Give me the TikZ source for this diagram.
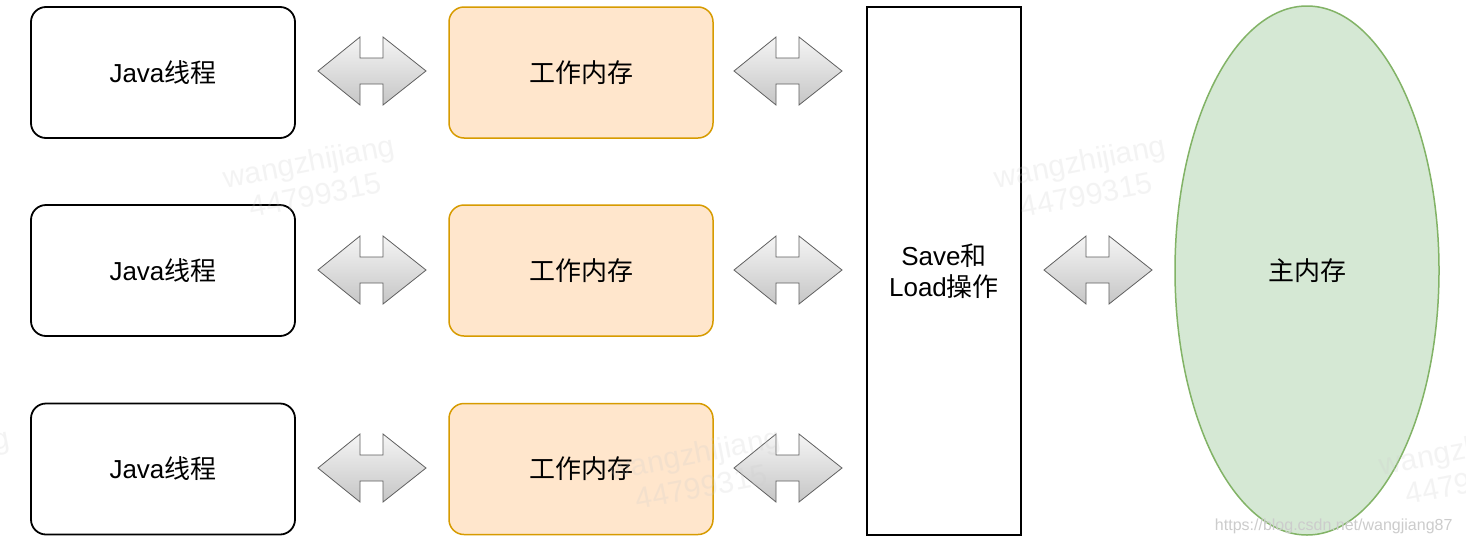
\documentclass[tikz,border=0pt]{standalone}
\usepackage{fontspec}
\setmainfont{Noto Sans CJK SC}
\newfontfamily\lat{Liberation Sans}
\usetikzlibrary{shapes.geometric,calc}
\definecolor{wmfill}{HTML}{FFE6CC}
\definecolor{wmdraw}{HTML}{D79B00}
\definecolor{mmfill}{HTML}{D5E8D4}
\definecolor{mmdraw}{HTML}{82B366}
\tikzset{
  thread/.style={draw=black, line width=1.8pt, rounded corners=15pt, minimum width=264pt, minimum height=131pt, inner sep=0pt, fill=white, font=\fontsize{26}{30}\selectfont},
  work/.style={draw=wmdraw, fill=wmfill, line width=1.5pt, rounded corners=15pt, minimum width=264pt, minimum height=131pt, inner sep=0pt, font=\fontsize{26}{30}\selectfont},
  savebox/.style={draw=black, line width=1.8pt, minimum width=154pt, minimum height=528pt, inner sep=0pt, fill=white, align=center, font=\fontsize{26}{31}\selectfont},
  mainmem/.style={ellipse, draw=mmdraw, fill=mmfill, line width=1.5pt, minimum width=264pt, minimum height=529pt, inner sep=0pt, font=\fontsize{26}{30}\selectfont},
  dbl/.style={draw=gray!75!black, line width=0.8pt, top color=gray!8, bottom color=gray!45},
  wmark/.style={rotate=11, align=center, text=gray!40, text opacity=0.22, font=\lat\fontsize{30}{34}\selectfont},
}
\newcommand{\dblarrow}[1]{%
  \path[dbl] ($(#1)+(-54,0)$) -- ++(42,-34) -- ++(0,21) -- ++(23,0) -- ++(0,-21)
    -- ++(43,34) -- ++(-43,34) -- ++(0,-21) -- ++(-23,0) -- ++(0,21) -- cycle;}
\begin{document}
\begin{tikzpicture}[x=1pt,y=-1pt]
\useasboundingbox[fill=white] (0,0) rectangle (1466,544);
% threads
\node[thread] (j1) at (163,72.5) {\lat Java\normalfont 线程};
\node[thread] (j2) at (163,270.5) {\lat Java\normalfont 线程};
\node[thread] (j3) at (163,469) {\lat Java\normalfont 线程};
% working memory
\node[work] (w1) at (581,72.5) {工作内存};
\node[work] (w2) at (581,270.5) {工作内存};
\node[work] (w3) at (581,469) {工作内存};
% save/load
\node[savebox] (s) at (944,271) {{\lat Save}和\\{\lat Load}操作};
% main memory
\node[mainmem] (m) at (1307,270.5) {主内存};
% double arrows
\coordinate (a1) at (372,71);
\coordinate (a2) at (372,270);
\coordinate (a3) at (372,468);
\coordinate (b1) at (788,71);
\coordinate (b2) at (788,270);
\coordinate (b3) at (788,468);
\coordinate (c1) at (1098,270);
\dblarrow{a1}\dblarrow{a2}\dblarrow{a3}
\dblarrow{b1}\dblarrow{b2}\dblarrow{b3}
\dblarrow{c1}
% watermarks
\node[wmark] (wm1) at (312,178) {wangzhijiang\\44799315};
\node[wmark] (wm2) at (1083,178) {wangzhijiang\\44799315};
\node[wmark] (wm3) at (698,470) {wangzhijiang\\44799315};
\node[wmark] (wm4) at (-73,470) {wangzhijiang\\44799315};
\node[wmark] (wm5) at (1468,465) {wangzhijiang\\44799315};
\node[text=gray!40, font=\lat\fontsize{16}{18}\selectfont, anchor=east] (url) at (1456,526) {https://blog.csdn.net/wangjiang87};
\end{tikzpicture}
\end{document}
